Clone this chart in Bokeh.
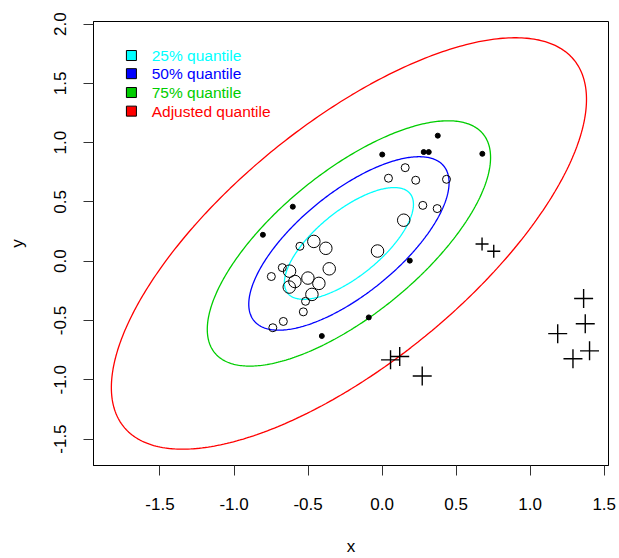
import numpy as np
from bokeh.plotting import figure
from bokeh.models import Range1d, FixedTicker, PrintfTickFormatter
from bokeh.core.properties import value
from bokeh.embed import file_html
from bokeh.resources import INLINE

# ---- data ----
# points inside the 25% ellipse (large circles)
big_x = [0.146, -0.031, -0.461, -0.380, -0.357, -0.625, -0.501, -0.427, -0.589, -0.627, -0.474]
big_y = [0.346, 0.086, 0.167, 0.109, -0.064, -0.084, -0.142, -0.187, -0.171, -0.218, -0.280]
# points between 25% and 50% (small circles)
small_x = [0.156, 0.043, 0.227, 0.435, 0.275, 0.372, -0.555, -0.674, -0.748, -0.517, -0.532, -0.667, -0.738]
small_y = [0.789, 0.700, 0.683, 0.691, 0.471, 0.444, 0.126, -0.054, -0.129, -0.338, -0.427, -0.508, -0.561]
# points between 50% and 75% (dots)
dot_x = [0.376, 0.001, 0.281, 0.315, 0.677, -0.603, -0.805, 0.187, -0.090, -0.407]
dot_y = [1.059, 0.900, 0.921, 0.921, 0.906, 0.460, 0.223, 0.005, -0.474, -0.631]
# points between 75% and adjusted quantile (small crosses)
scross_x = [0.675, 0.754]
scross_y = [0.145, 0.084]
# points beyond adjusted quantile (large crosses)
lcross_x = [1.361, 1.372, 1.186, 1.401, 1.289, 0.057, 0.119, 0.271]
lcross_y = [-0.315, -0.527, -0.611, -0.756, -0.823, -0.832, -0.803, -0.968]

# robust location / scatter and chi-square quantiles
center = [-0.224, 0.150]
scatter = [[0.330, 0.250], [0.250, 0.386]]
quantiles = [0.5754, 1.3863, 2.7726, 7.80]
labels = ["25% quantile", "50% quantile", "75% quantile", "Adjusted quantile"]
colors = ["#00FFFF", "#0000FF", "#00CD00", "#FF0000"]

x_ticks = [-1.5, -1.0, -0.5, 0.0, 0.5, 1.0, 1.5]
y_ticks = [-1.5, -1.0, -0.5, 0.0, 0.5, 1.0, 1.5, 2.0]

FONT = "Liberation Sans"

p = figure(width=619, height=558, output_backend="svg", toolbar_location=None,
           x_range=Range1d(-1.949, 1.529), y_range=Range1d(-1.723, 2.022),
           min_border_left=93, min_border_right=11, min_border_top=21, min_border_bottom=90)
p.background_fill_color = "white"
p.border_fill_color = "white"
p.outline_line_color = "black"
p.outline_line_width = 1
p.xgrid.visible = False
p.ygrid.visible = False

for ax in (p.xaxis[0], p.yaxis[0]):
    ax.major_tick_out = 10
    ax.major_tick_in = 0
    ax.minor_tick_out = 0
    ax.minor_tick_in = 0
    ax.axis_line_color = "black"
    ax.major_tick_line_color = "#333333"
    ax.major_label_text_font = FONT
    ax.major_label_text_font_size = "17px"
    ax.major_label_text_color = "black"
    ax.axis_label_text_font = FONT
    ax.axis_label_text_font_size = "17px"
    ax.axis_label_text_font_style = "normal"
    ax.axis_label_text_color = "black"
    ax.formatter = PrintfTickFormatter(format="%.1f")

p.xaxis.ticker = FixedTicker(ticks=x_ticks)
p.yaxis.ticker = FixedTicker(ticks=y_ticks)
p.xaxis.axis_label = "x"
p.yaxis.axis_label = "y"
p.xaxis.major_label_standoff = 22
p.yaxis.major_label_standoff = 17
p.xaxis.axis_label_standoff = 24
p.yaxis.axis_label_standoff = 25
p.yaxis.major_label_orientation = "vertical"

# ellipses
t = np.linspace(0, 2 * np.pi, 400)
L = np.linalg.cholesky(np.array(scatter))
circ = np.vstack([np.cos(t), np.sin(t)])
for q, c in zip(quantiles, colors):
    pts = np.sqrt(q) * (L @ circ)
    p.line(center[0] + pts[0], center[1] + pts[1], line_color=c, line_width=1.3)

# points
p.scatter(big_x, big_y, marker="circle", size=12.5, fill_color=None, line_color="black", line_width=1)
p.scatter(small_x, small_y, marker="circle", size=8, fill_color=None, line_color="black", line_width=1)
p.scatter(dot_x, dot_y, marker="circle", size=5, fill_color="black", line_color="black")
p.scatter(scross_x, scross_y, marker="cross", size=13, line_color="black", line_width=1.4)
p.scatter(lcross_x, lcross_y, marker="cross", size=19, line_color="black", line_width=1.4)

# legend (manual, coloured text)
leg_sq_x = -1.693
leg_tx_x = -1.556
leg_y = [1.735, 1.582, 1.423, 1.266]
p.scatter([leg_sq_x] * 4, leg_y, marker="square", size=10, fill_color=colors, line_color="black", line_width=1)
p.text([leg_tx_x] * 4, leg_y, text=labels, text_color=colors, text_font=value(FONT),
       text_font_size="15.5px", text_baseline="middle", text_align="left")

open("out.html", "w").write(file_html(p, INLINE))
